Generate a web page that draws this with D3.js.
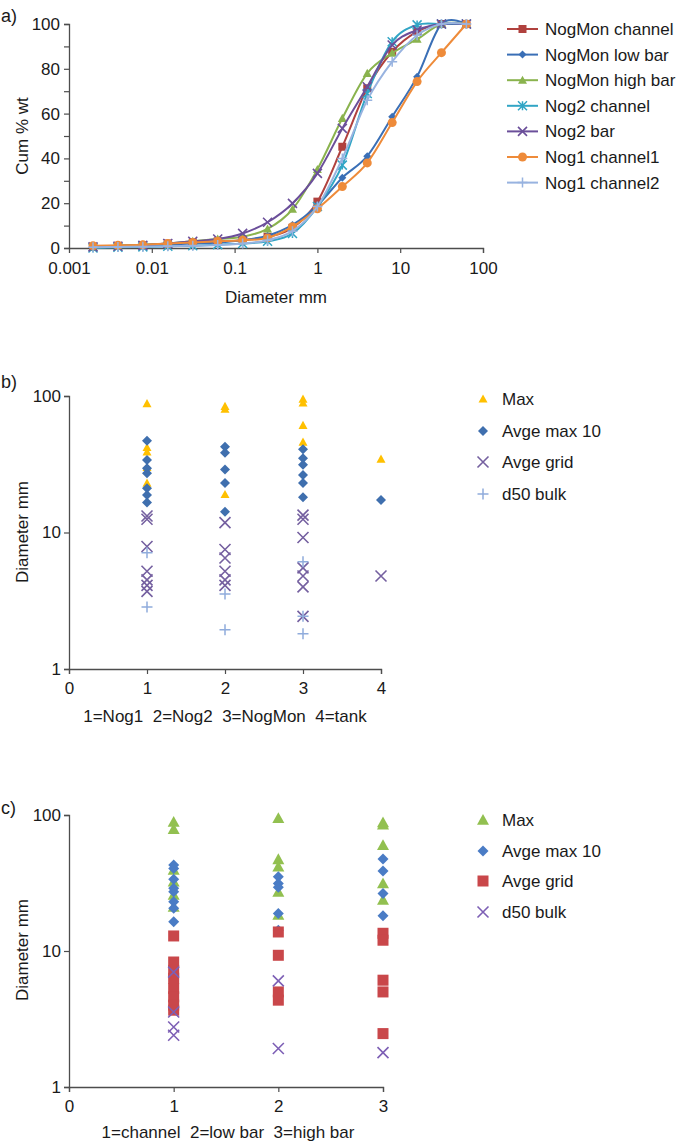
<!DOCTYPE html>
<html><head><meta charset="utf-8">
<script src="https://cdn.jsdelivr.net/npm/d3@7"></script>
<style>
body{margin:0;background:#fff}
text{font-family:Arial,"Liberation Sans",sans-serif;fill:#1a1a1a}
</style>
</head><body>
<svg id="chart" width="685" height="1143"></svg>
<script>
// ---------- Panel a data ----------
const sizesA = [0.00195,0.0039,0.0078,0.0156,0.03125,0.0625,0.125,0.25,0.5,1,2,4,8,16,31.5,63];
const seriesNamesA = ["NogMon channel","NogMon low bar","NogMon high bar","Nog2 channel","Nog2 bar","Nog1 channel1","Nog1 channel2"];
const nogMonChannel = [0.5,1,1.2,2,2.5,3,3.5,5,9,20.7,45.2,71.3,87.6,96.6,100,100];
const nogMonLowBar  = [0.5,1,1.2,1.5,2,2.5,3.5,5.5,10.3,19,31.4,41,58.6,76.5,100,100];
const nogMonHighBar = [0.5,1,1.5,2,3,4,5,8.5,17.3,35.1,57.9,78,87,93.2,100,100];
const nog2Channel   = [0,0.3,0.5,0.8,1,1.5,2,3,6.5,18.5,37,69,92.1,99.6,100,100];
const nog2Bar       = [0.5,0.8,1.2,2,3,4,6.5,11.5,19.9,33.3,53.4,72,90.6,97.3,100,100];
const nog1Channel1  = [1,1.2,1.4,2,2.5,3,3.5,4.5,9.5,17.5,27.4,38,56,74.3,87.2,100];
const nog1Channel2  = [0.3,0.5,0.6,0.8,1,1.3,2,3.5,7.5,18.5,40,66,83.2,95,100,100];
const xTicksA = [0.001,0.01,0.1,1,10,100];
const xTickLabelsA = ["0.001","0.01","0.1","1","10","100"];

// ---------- Panel b data (per category: 1=Nog1 2=Nog2 3=NogMon 4=tank) ----------
const catsB = [1,2,3,4];
const bMax      = [[88,42,39,30,23],[84,80,19],[95,89,61,46],[34.5]];
const bAvgeMax10= [[47,34,29.5,27.2,21.1,18.8,16.6],[42.5,38.4,29,23,14.2],[40.7,35,31.3,26.4,23,18.1],[17.3]];
const bAvgeGrid = [[13.2,12.5,7.9,5.2,4.5,4.1,3.7],[11.8,7.5,6.5,5.2,4.5,4.1],[13.4,12.5,9.2,5.5,4.8,4.0,2.43],[4.8]];
const bD50Bulk  = [[7.1,2.84],[3.55,1.94],[6.1,2.43,1.81],[]];

// ---------- Panel c data (1=channel 2=low bar 3=high bar) ----------
const catsC = [1,2,3];
const cMax      = [[89,78.5,39.4,32.3,25.8,21.1],[94.6,47.2,41.6,27.2,18.4],[88,85,60,31.4,23.7]];
const cAvgeMax10= [[42.9,40.5,33.7,28.9,27.3,23,20.6,16.4],[35.1,31.4,29.4,18.9,14.2],[47.4,38.7,26.5,18.2]];
const cAvgeGrid = [[12.9,8.3,7.2,6.3,5.3,4.6,4.0,3.67],[13.8,9.3,5.0,4.35],[13.5,12.0,6.1,5.0,2.47]];
const cD50Bulk  = [[7.0,3.56,2.76,2.4],[6.03,1.92],[1.79]];

const legendB = ["Max","Avge max 10","Avge grid","d50 bulk"];

// ---------- helpers ----------
const svg = d3.select("#chart");
const FS = 17;
const AX = "#4d4d4d";

function marker(g, type, x, y, s, color){
  const h = s/2;
  if(type==="square"){
    g.append("rect").attr("x",x-h).attr("y",y-h).attr("width",s).attr("height",s).attr("fill",color);
  } else if(type==="diamond"){
    g.append("path").attr("d",`M${x},${y-h}L${x+h},${y}L${x},${y+h}L${x-h},${y}Z`).attr("fill",color);
  } else if(type==="triangle"){
    g.append("path").attr("d",`M${x},${y-h}L${x+h},${y+h*0.8}L${x-h},${y+h*0.8}Z`).attr("fill",color);
  } else if(type==="circle"){
    g.append("circle").attr("cx",x).attr("cy",y).attr("r",h).attr("fill",color);
  } else if(type==="x"){
    g.append("path").attr("d",`M${x-h},${y-h}L${x+h},${y+h}M${x-h},${y+h}L${x+h},${y-h}`).attr("stroke",color).attr("stroke-width",1.6).attr("fill","none");
  } else if(type==="plus"){
    g.append("path").attr("d",`M${x-h},${y}L${x+h},${y}M${x},${y-h}L${x},${y+h}`).attr("stroke",color).attr("stroke-width",1.5).attr("fill","none");
  } else if(type==="asterisk"){
    g.append("path").attr("d",`M${x-h},${y-h}L${x+h},${y+h}M${x-h},${y+h}L${x+h},${y-h}M${x},${y-h}L${x},${y+h}`).attr("stroke",color).attr("stroke-width",1.5).attr("fill","none");
  }
}

function styleAxis(g){
  g.selectAll("path.domain").attr("stroke",AX).attr("stroke-width",1.3);
  g.selectAll(".tick line").attr("stroke",AX).attr("stroke-width",1.2);
  g.selectAll(".tick text").attr("font-size",FS).attr("fill","#1a1a1a").attr("font-family","Arial, 'Liberation Sans', sans-serif");
}

// ================= Panel a =================
{
  const x = d3.scaleLog().domain([0.001,100]).range([69,483]);
  const y = d3.scaleLinear().domain([0,100]).range([248,24]);
  const g = svg.append("g");
  const yAxis = g.append("g").attr("transform","translate(69,0)")
    .call(d3.axisLeft(y).tickValues(d3.range(0,101,10)).tickSize(5).tickPadding(4)
      .tickFormat(d=> d%20===0 ? d : ""));
  styleAxis(yAxis);
  const xAxis = g.append("g").attr("transform","translate(0,248)")
    .call(d3.axisBottom(x).tickValues(xTicksA).tickSize(5).tickPadding(9)
      .tickFormat((d,i)=>xTickLabelsA[i]));
  styleAxis(xAxis);
  xAxis.selectAll(".tick line").filter(d=>d===0.001).remove();

  g.append("text").attr("x",276).attr("y",303).attr("text-anchor","middle").attr("font-size",FS).text("Diameter mm");
  g.append("text").attr("transform","translate(28,136) rotate(-90)").attr("text-anchor","middle").attr("font-size",FS).text("Cum % wt");
  svg.append("text").attr("x",1).attr("y",22).attr("font-size",FS+1).text("a)");

  const data = [nogMonChannel,nogMonLowBar,nogMonHighBar,nog2Channel,nog2Bar,nog1Channel1,nog1Channel2];
  const colors = ["#b0413e","#3a6fb6","#8ab34e","#31a5c5","#6b4f9a","#ee8b3a","#98b3e0"];
  const types = ["square","diamond","triangle","asterisk","x","circle","plus"];
  const sizes = [8,8,9,9,9,9,10];
  const line = d3.line().x((d,i)=>x(sizesA[i])).y(d=>y(d)).curve(d3.curveCardinal.tension(0));
  data.forEach((vals,k)=>{
    const sg = g.append("g");
    sg.append("path").datum(vals).attr("d",line).attr("fill","none").attr("stroke",colors[k]).attr("stroke-width",2);
    vals.forEach((v,i)=>marker(sg,types[k],x(sizesA[i]),y(v),sizes[k],colors[k]));
  });
  // legend
  const lg = svg.append("g");
  seriesNamesA.forEach((n,k)=>{
    const yy = 29 + k*25.6;
    lg.append("line").attr("x1",507).attr("x2",538).attr("y1",yy).attr("y2",yy).attr("stroke",colors[k]).attr("stroke-width",2);
    marker(lg,types[k],522.5,yy,sizes[k],colors[k]);
    lg.append("text").attr("x",545).attr("y",yy+6).attr("font-size",FS).text(n);
  });
}

// ================= scatter panels =================
function scatterPanel(opts){
  const {x,y,cats,series,types,colors,sizes,legendY,xLabel,yLabelY,tag,tagY,xTicks} = opts;
  const g = svg.append("g");
  const yAxis = g.append("g").attr("transform",`translate(${x.range()[0]},0)`)
    .call(d3.axisLeft(y).tickValues([1,10,100]).tickSize(5).tickPadding(3).tickFormat(d3.format("d")));
  styleAxis(yAxis);
  const y0 = y.range()[0];
  const xAxis = g.append("g").attr("transform",`translate(0,${y0})`)
    .call(d3.axisBottom(x).tickValues(xTicks).tickSize(5).tickPadding(8).tickFormat(d3.format("d")));
  styleAxis(xAxis);
  g.append("text").attr("x",xLabel.x).attr("y",xLabel.y).attr("text-anchor","middle").attr("font-size",FS)
    .style("white-space","pre").text(xLabel.text);
  g.append("text").attr("transform",`translate(28,${yLabelY}) rotate(-90)`).attr("text-anchor","middle").attr("font-size",FS).text("Diameter mm");
  svg.append("text").attr("x",1).attr("y",tagY).attr("font-size",FS+1).text(tag);
  series.forEach((s,k)=>{
    const sg = g.append("g");
    s.forEach((vals,ci)=>{
      vals.forEach(v=>marker(sg,types[k],x(cats[ci]),y(v),sizes[k],colors[k]));
    });
  });
  legendB.forEach((n,k)=>{
    const yy = legendY[k];
    marker(g,types[k],483,yy,sizes[k],colors[k]);
    g.append("text").attr("x",502).attr("y",yy+6).attr("font-size",FS).text(n);
  });
}

scatterPanel({
  x: d3.scaleLinear().domain([0,4]).range([69,381]),
  y: d3.scaleLog().domain([1,100]).range([669,396]),
  cats: catsB, xTicks:[0,1,2,3,4],
  series:[bMax,bAvgeMax10,bAvgeGrid,bD50Bulk],
  types:["triangle","diamond","x","plus"],
  colors:["#ffc000","#3f6fae","#7560a0","#90acdc"],
  sizes:[9,10,11,11],
  legendY:[399,431,462,494],
  xLabel:{x:225,y:722,text:"1=Nog1  2=Nog2  3=NogMon  4=tank"},
  yLabelY:532, tag:"b)", tagY:388
});

scatterPanel({
  x: d3.scaleLinear().domain([0,3]).range([69,383]),
  y: d3.scaleLog().domain([1,100]).range([1087,815]),
  cats: catsC, xTicks:[0,1,2,3],
  series:[cMax,cAvgeMax10,cAvgeGrid,cD50Bulk],
  types:["triangle","diamond","square","x"],
  colors:["#92c050","#4a7cc5","#c9474a","#7d5fb5"],
  sizes:[12,11,11,11],
  legendY:[820,851,881,912],
  xLabel:{x:228,y:1138,text:"1=channel  2=low bar  3=high bar"},
  yLabelY:950, tag:"c)", tagY:814
});
</script>
</body></html>
